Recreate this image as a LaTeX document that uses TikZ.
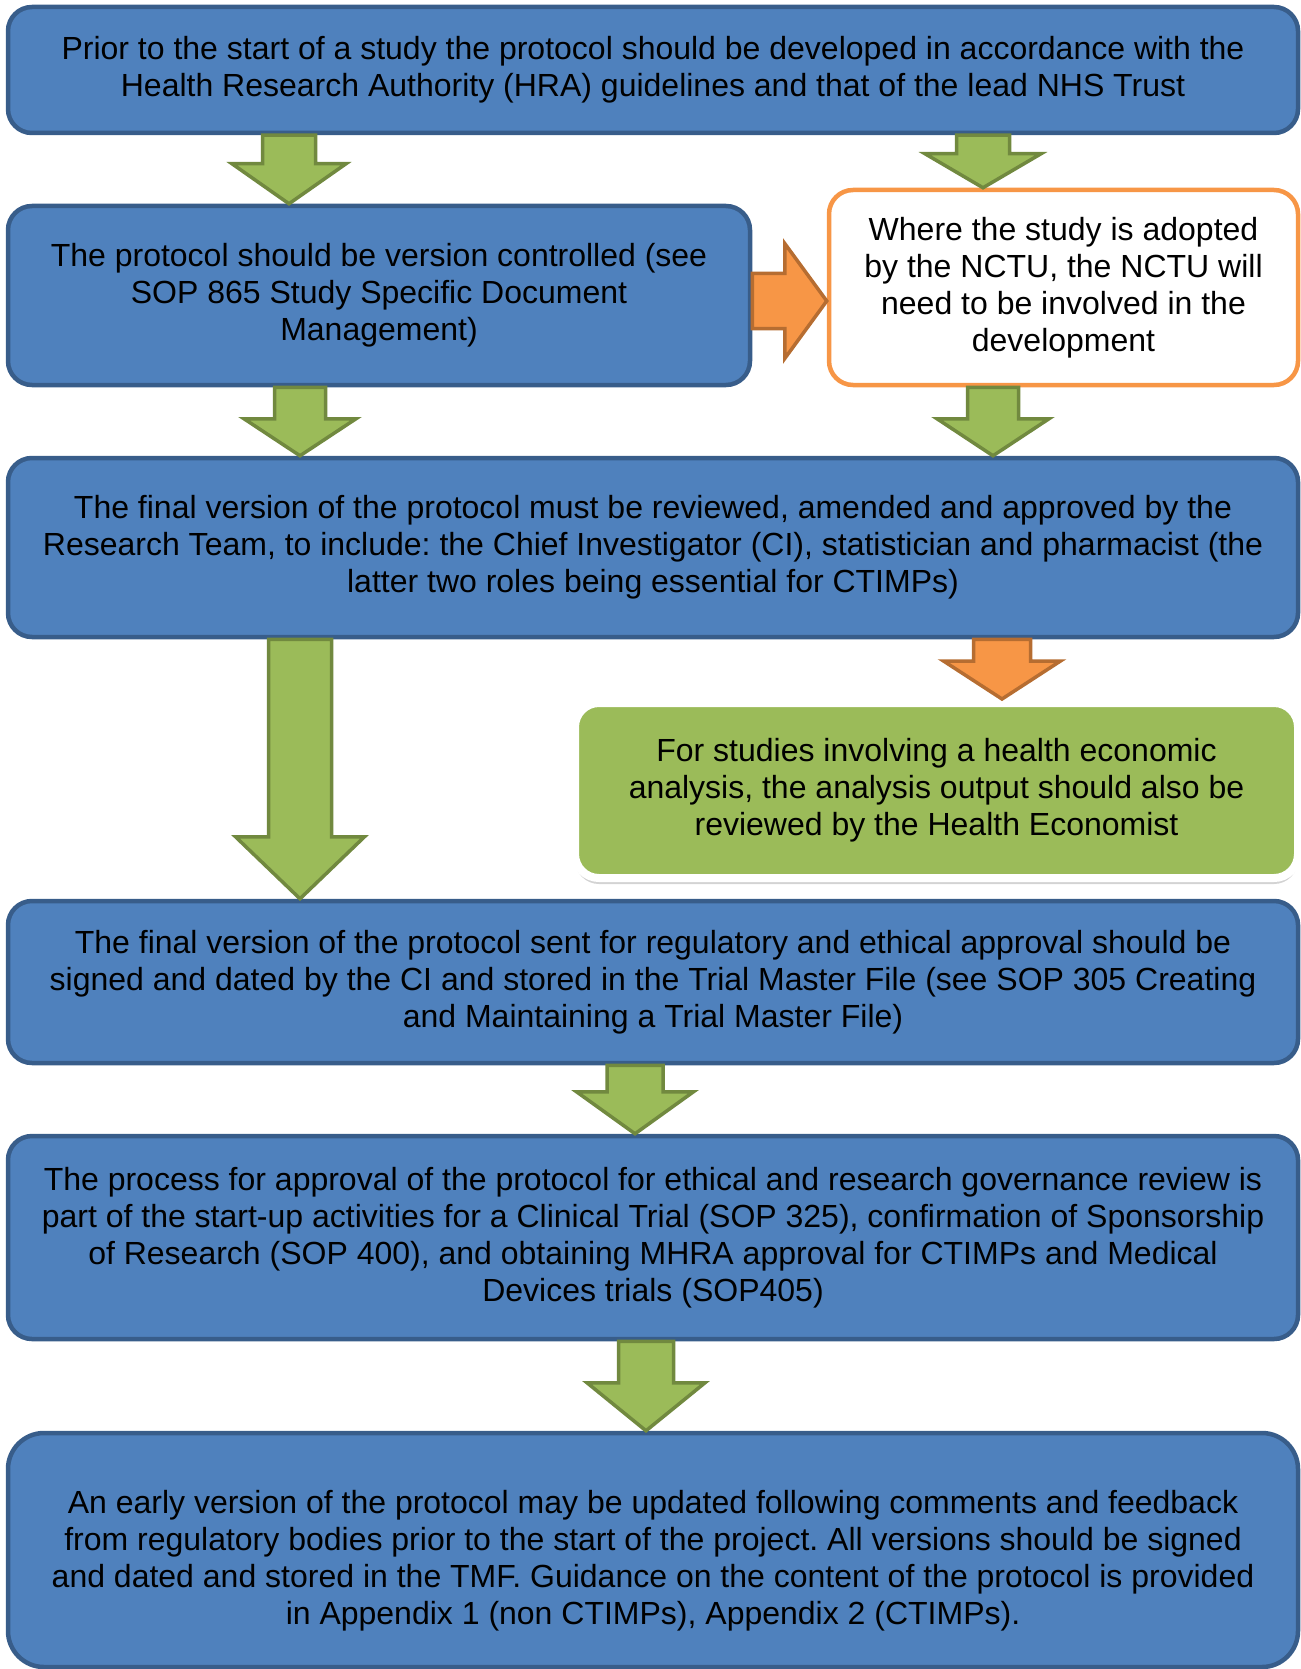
\documentclass[tikz,border=0pt]{standalone}
\usepackage{fontspec}
\setmainfont{Liberation Sans}
\usetikzlibrary{calc,shadows}
\frenchspacing
\definecolor{boxblue}{HTML}{4F81BD}
\definecolor{boxblueline}{HTML}{385D8A}
\definecolor{arrgreen}{HTML}{9BBB59}
\definecolor{arrgreenline}{HTML}{71893F}
\definecolor{arrorange}{HTML}{F79646}
\definecolor{arrorangeline}{HTML}{B66D31}

% block arrow pointing down: style, x, from, to, half shaft, half head, head length
\newcommand\dnarrow[7]{%
  \draw[#1] let \p1=(#3.south), \p2=(#4.north) in
    (#2-#5,\y1) -- (#2+#5,\y1) -- (#2+#5,\y2+#7) -- (#2+#6,\y2+#7) -- (#2,\y2)
    -- (#2-#6,\y2+#7) -- (#2-#5,\y2+#7) -- cycle;}
% block arrow pointing right: style, y, from, to, half shaft, half head, head length
\newcommand\rtarrow[7]{%
  \draw[#1] let \p1=(#3.east), \p2=(#4.west) in
    (\x1,#2-#5) -- (\x2-#7,#2-#5) -- (\x2-#7,#2-#6) -- (\x2,#2)
    -- (\x2-#7,#2+#6) -- (\x2-#7,#2+#5) -- (\x1,#2+#5) -- cycle;}

\begin{document}
\begin{tikzpicture}[x=1pt,y=-1pt,
    txt/.style={align=center,font=\fontsize{32}{37}\selectfont},
    bluebox/.style={txt,draw=boxblueline,fill=boxblue,line width=4.5pt,rounded corners=24pt},
    nctubox/.style={txt,draw=arrorange,fill=white,line width=4.5pt,rounded corners=24pt},
    econbox/.style={txt,draw=white,fill=arrgreen,line width=8pt,rounded corners=24pt,
      drop shadow={shadow xshift=0pt,shadow yshift=-6pt,opacity=0.35}},
    greenarr/.style={draw=arrgreenline,fill=arrgreen,line width=3.5pt,line join=miter},
    orangearr/.style={draw=arrorangeline,fill=arrorange,line width=3.5pt,line join=miter}]
\useasboundingbox (0,0) rectangle (1300,1669);

\node[bluebox,minimum width=1290pt,minimum height=126pt] (hra) at (653,70)
  {Prior to the start of a study the protocol should be developed in accordance with the\\
   Health Research Authority (HRA) guidelines and that of the lead NHS Trust};
\node[bluebox,minimum width=742pt,minimum height=179pt] (versioning) at (379,295.5)
  {The protocol should be version controlled (see\\ SOP 865 Study Specific Document\\ Management)};
\node[nctubox,minimum width=469pt,minimum height=195pt] (nctu) at (1063.5,287.5)
  {Where the study is adopted\\ by the NCTU, the NCTU will\\ need to be involved in the\\ development};
\node[bluebox,minimum width=1290pt,minimum height=179pt] (review) at (653,547.5)
  {The final version of the protocol must be reviewed, amended and approved by the\\
   Research Team, to include: the Chief Investigator (CI), statistician and pharmacist (the\\
   latter two roles being essential for CTIMPs)};
\node[econbox,minimum width=723pt,minimum height=175pt] (econ) at (936.5,790.5)
  {For studies involving a health economic\\ analysis, the analysis output should also be\\
   reviewed by the Health Economist};
\node[bluebox,minimum width=1290pt,minimum height=162pt] (signed) at (653,982)
  {The final version of the protocol sent for regulatory and ethical approval should be\\
   signed and dated by the CI and stored in the Trial Master File (see SOP 305 Creating\\
   and Maintaining a Trial Master File)};
\node[bluebox,minimum width=1290pt,minimum height=203pt] (approval) at (653,1237.5)
  {The process for approval of the protocol for ethical and research governance review is\\
   part of the start-up activities for a Clinical Trial (SOP 325), confirmation of Sponsorship\\
   of Research (SOP 400), and obtaining MHRA approval for CTIMPs and Medical\\
   Devices trials (SOP405)};
\node[bluebox,rounded corners=36pt,minimum width=1290pt,minimum height=234pt] (updates) at (653,1550)
  {\rule{0pt}{44pt}An early version of the protocol may be updated following comments and feedback\\
   from regulatory bodies prior to the start of the project. All versions should be signed\\
   and dated and stored in the TMF. Guidance on the content of the protocol is provided\\
   in Appendix 1 (non CTIMPs), Appendix 2 (CTIMPs).};

% arrows
\dnarrow{greenarr}{289}{hra}{versioning}{26.5}{57}{40}
\dnarrow{greenarr}{983}{hra}{nctu}{26.5}{58}{34}
\rtarrow{orangearr}{301}{versioning}{nctu}{27.5}{57.5}{42}
\dnarrow{greenarr}{300}{versioning}{review}{25.5}{56}{37}
\dnarrow{greenarr}{993}{nctu}{review}{25.5}{56}{37}
\dnarrow{greenarr}{300}{review}{signed}{31.5}{64.5}{62}
\dnarrow{orangearr}{1002}{review}{econ}{28.5}{58.5}{38}
\dnarrow{greenarr}{635}{signed}{approval}{28}{58.5}{42}
\dnarrow{greenarr}{646}{approval}{updates}{27.5}{59}{48}
\end{tikzpicture}
\end{document}
